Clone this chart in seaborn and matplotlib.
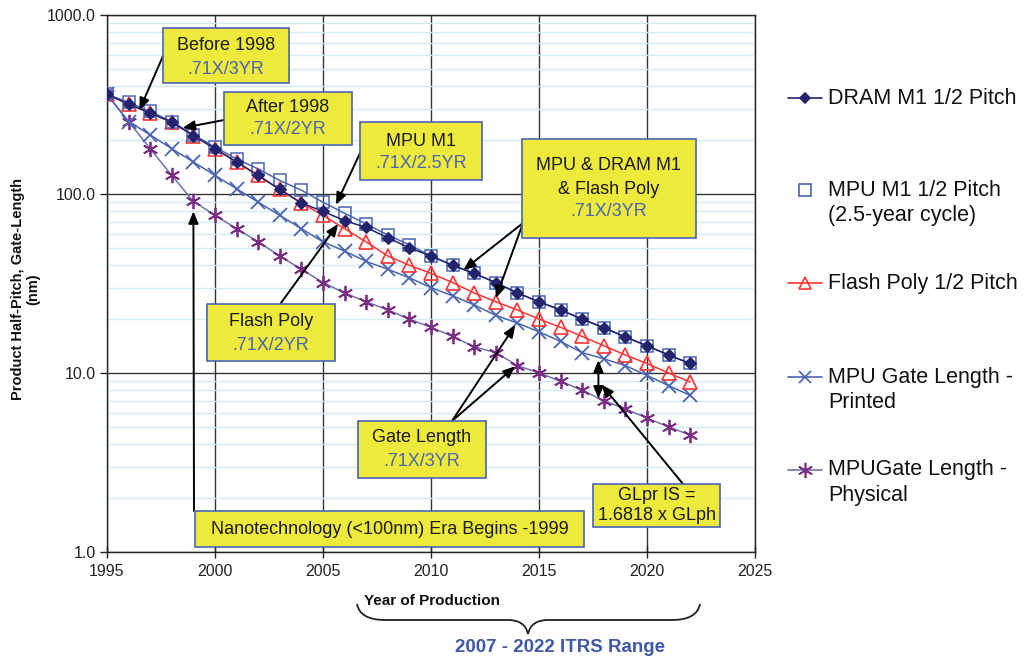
import matplotlib
matplotlib.use("Agg")
import matplotlib.pyplot as plt
from matplotlib.lines import Line2D
from matplotlib.patches import Rectangle, PathPatch
from matplotlib.path import Path
from matplotlib.ticker import FixedLocator, LogLocator, FuncFormatter, NullFormatter
import seaborn as sns

# ITRS technology trend values (nm)
years = list(range(1995, 2023))
dram_m1 = [360, 318, 283, 252, 212, 179, 151, 127, 106, 89, 80, 71, 65, 57,
           50, 45, 40, 36, 32, 28, 25, 22.5, 20, 17.9, 15.9, 14.2, 12.6, 11.3]
mpu_m1 = [360, 326, 289, 254, 214, 183, 157, 138, 119, 105, 90, 78, 68, 59,
          52, 45, 40, 36, 32, 28, 25, 22.5, 20, 17.9, 15.9, 14.2, 12.6, 11.3]
flash_poly = [360, 318, 283, 252, 212, 179, 151, 127, 106, 89, 76, 64, 54, 45,
              40, 36, 32, 28, 25, 22.5, 20, 18, 16, 14.2, 12.6, 11.3, 10, 8.9]
gate_printed = [360, 254, 214, 179, 151, 127, 107, 90, 76, 64, 54, 48, 42, 38,
                34, 30, 27, 24, 21, 19, 17, 15, 13, 12, 11, 9.7, 8.5, 7.5]
gate_physical = [360, 254, 179, 127, 91, 76, 64, 54, 45, 38, 32, 28, 25, 22.5,
                 20, 18, 16, 14, 13, 11, 10, 9, 8, 7, 6.3, 5.6, 5, 4.5]

x_ticks = [1995, 2000, 2005, 2010, 2015, 2020, 2025]
y_ticks = [1, 10, 100, 1000]

NAVY = "#24246E"
BLUE = "#4A64B4"
RED = "#FF3333"
PURPLE = "#7B2D84"
GREY_BLUE = "#6C74AC"
YELLOW = "#EEEA3C"

sns.set_theme(style="white")
plt.rcParams["font.family"] = ["Liberation Sans", "DejaVu Sans"]

W, H = 1026, 659


def fx(px):
    return px / W


def fy(py):
    return 1 - py / H


fig = plt.figure(figsize=(W / 100, H / 100), dpi=100)
ax = fig.add_axes([fx(107), fy(552), fx(755) - fx(107), fy(15) - fy(552)])

# (values, line colour, marker, face, edge, size, edge width)
series = [
    (gate_physical, GREY_BLUE, (6, 2, 0), PURPLE, PURPLE, 11, 1.3),
    (gate_printed, BLUE, "x", BLUE, BLUE, 9.5, 1.3),
    (flash_poly, RED, "^", "none", RED, 9.5, 1.2),
    (mpu_m1, BLUE, "s", "none", BLUE, 9, 1.1),
    (dram_m1, NAVY, "D", NAVY, NAVY, 6, 0.8),
]
for vals, lc, mk, mfc, mec, ms, mew in series:
    sns.lineplot(x=years, y=vals, ax=ax, color=lc, lw=1.1, marker=mk,
                 markersize=ms, markerfacecolor=mfc, markeredgecolor=mec,
                 markeredgewidth=mew, legend=False, zorder=3)

ax.set_yscale("log")
ax.set_xlim(1995, 2025)
ax.set_ylim(1, 1000)
ax.xaxis.set_major_locator(FixedLocator(x_ticks))
ax.yaxis.set_major_locator(FixedLocator(y_ticks))
ax.yaxis.set_major_formatter(FuncFormatter(lambda v, p: f"{v:.1f}"))
ax.yaxis.set_minor_locator(LogLocator(base=10, subs=range(2, 10)))
ax.yaxis.set_minor_formatter(NullFormatter())
ax.set_axisbelow(True)
ax.grid(which="major", color="#333333", lw=1.0)
ax.grid(which="minor", axis="y", color="#CDEDF3", lw=1.0)
ax.grid(which="minor", axis="x", visible=False)
for sp in ax.spines.values():
    sp.set_color("#222222")
    sp.set_linewidth(1.0)
ax.tick_params(axis="y", which="major", left=True, direction="out", length=5,
               width=1, color="#222222", labelsize=11.5, labelcolor="#222222", pad=3)
ax.tick_params(axis="y", which="minor", left=False, length=0)
ax.tick_params(axis="x", which="major", bottom=True, direction="inout", length=9,
               width=1, color="#222222", labelsize=11.5, labelcolor="#222222", pad=4)
ax.set_xlabel("")
ax.set_ylabel("")

fig.text(fx(26), fy(289), "Product Half-Pitch, Gate-Length\n(nm)", rotation=90,
         ha="center", va="center", ma="center", fontsize=10.5, fontweight="bold",
         color="#111111", linespacing=1.1)
fig.text(fx(432), fy(601), "Year of Production", ha="center", va="center",
         fontsize=11, fontweight="bold", color="#111111")
fig.text(fx(560), fy(647), "2007 - 2022 ITRS Range", ha="center", va="center",
         fontsize=13.5, fontweight="bold", color="#3F58A8")

# curly brace under the x axis
brace = [
    (357, 604), (360, 620), (385, 620),
    (508, 620),
    (525, 620), (528, 634),
    (531, 620), (548, 620),
    (672, 620),
    (697, 620), (700, 604),
]
codes = [Path.MOVETO, Path.CURVE3, Path.CURVE3, Path.LINETO,
         Path.CURVE3, Path.CURVE3, Path.CURVE3, Path.CURVE3,
         Path.LINETO, Path.CURVE3, Path.CURVE3]
fig.add_artist(PathPatch(Path([(fx(a), fy(b)) for a, b in brace], codes),
                         transform=fig.transFigure, fc="none", ec="#222222", lw=1.3))


def callout(x0, y0, x1, y1, lines):
    fig.add_artist(Rectangle((fx(x0), fy(y1)), fx(x1) - fx(x0), fy(y0) - fy(y1),
                             transform=fig.transFigure, fc=YELLOW, ec=BLUE,
                             lw=1.2, zorder=5))
    for text, py, col in lines:
        fig.text(fx((x0 + x1) / 2), fy(py), text, ha="center", va="center",
                 fontsize=13, color=col, zorder=6)


def arrow(tip, start, style="-|>"):
    ax.annotate("", xy=tip, xycoords="data",
                xytext=(fx(start[0]), fy(start[1])), textcoords="figure fraction",
                arrowprops=dict(arrowstyle=style + ",head_length=0.6,head_width=0.25",
                                color="black", lw=1.4, shrinkA=0, shrinkB=0),
                annotation_clip=False, zorder=4)


arrow((1996.5, 294), (163, 56))
callout(163, 28, 289, 83, [("Before 1998", 45, "#1A1A1A"), (".71X/3YR", 69, BLUE)])

arrow((1998.5, 234), (224, 120))
callout(224, 92, 352, 145, [("After 1998", 108, "#1A1A1A"), (".71X/2YR", 130, BLUE)])

arrow((2005.6, 87), (361, 151))
callout(360, 122, 482, 180, [("MPU M1", 141, "#1A1A1A"), (".71X/2.5YR", 164, BLUE)])

arrow((2011.5, 37.6), (523, 223))
arrow((2013.0, 26.2), (523, 223))
callout(522, 139, 696, 238, [("MPU & DRAM M1", 166, "#1A1A1A"),
                             ("& Flash Poly", 189, "#1A1A1A"), (".71X/3YR", 212, BLUE)])

arrow((2005.7, 68), (281, 303))
callout(207, 304, 335, 361, [("Flash Poly", 322, "#1A1A1A"), (".71X/2YR", 345, BLUE)])

arrow((2013.9, 18.5), (452, 421))
arrow((2013.9, 10.9), (452, 421))
callout(358, 421, 486, 478, [("Gate Length", 438, "#1A1A1A"), (".71X/3YR", 461, BLUE)])

ax.annotate("", xy=(2017.75, 11.8), xytext=(2017.75, 7.2), xycoords="data",
            arrowprops=dict(arrowstyle="<|-|>,head_length=0.6,head_width=0.25",
                            color="black", lw=1.4, shrinkA=0, shrinkB=0), zorder=4)
arrow((2017.9, 8.6), (683, 484))
callout(593, 484, 720, 527, [("GLpr IS =", 496, "#1A1A1A"),
                             ("1.6818 x GLph", 516, "#1A1A1A")])

arrow((1999.0, 80), (194, 511))
callout(195, 511, 584, 547, [("Nanotechnology (<100nm) Era Begins -1999", 529, "#1A1A1A")])

# legend drawn entry by entry to match the uneven spacing
legend_rows = [
    (["DRAM M1 1/2 Pitch"], 98, NAVY, "D", NAVY, NAVY, 5.5, True),
    (["MPU M1 1/2 Pitch", "(2.5-year cycle)"], 190, BLUE, "s", "none", BLUE, 8, False),
    (["Flash Poly 1/2 Pitch"], 283, RED, "^", "none", RED, 8, True),
    (["MPU Gate Length -", "Printed"], 377, BLUE, "x", BLUE, BLUE, 9, True),
    (["MPUGate Length -", "Physical"], 470, GREY_BLUE, (6, 2, 0), PURPLE, PURPLE, 11, True),
]
for texts, py, lc, mk, mfc, mec, ms, with_line in legend_rows:
    if with_line:
        fig.add_artist(Line2D([fx(788), fx(822)], [fy(py), fy(py)], color=lc, lw=1.2,
                              transform=fig.transFigure))
    fig.add_artist(Line2D([fx(805)], [fy(py)], marker=mk, markersize=ms,
                          markerfacecolor=mfc, markeredgecolor=mec, markeredgewidth=1.2,
                          ls="none", transform=fig.transFigure))
    for i, t in enumerate(texts):
        fig.text(fx(828), fy(py + 25 * i), t, ha="left", va="center",
                 fontsize=15.5, color="#111111")

fig.savefig("out.png", dpi=100, facecolor="white")
